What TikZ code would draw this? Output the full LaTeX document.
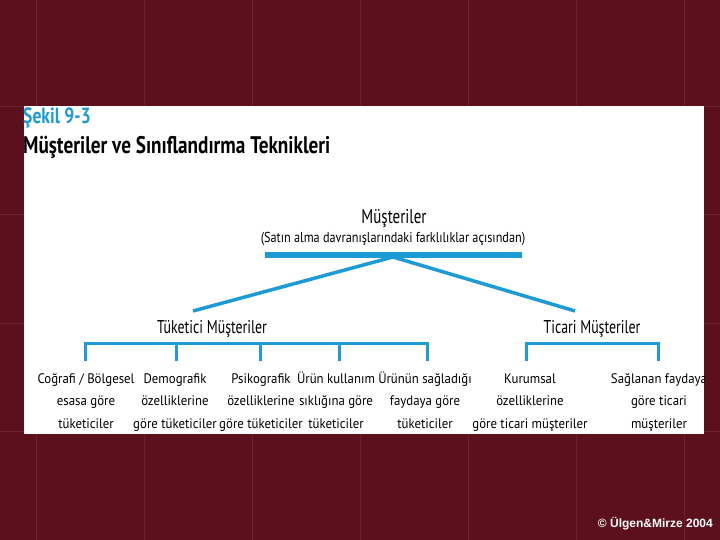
\documentclass[tikz,border=0pt]{standalone}
\usepackage{fontspec}
\setmainfont{PT Sans}[FakeStretch=0.93]
\newfontfamily\headfont{PT Sans}[FakeStretch=0.75]
\newfontfamily\subfont{PT Sans}[FakeStretch=0.85]
\newfontfamily\titlefont{PT Sans}[FakeStretch=0.8]
\newfontfamily\copyfont{Liberation Sans}
\definecolor{bgmaroon}{RGB}{92,16,28}
\definecolor{gridline}{RGB}{110,34,48}
\definecolor{diagblue}{RGB}{28,155,215}
\tikzset{
  gridrule/.style={draw=gridline, line width=1pt},
  bar/.style={draw=diagblue, line width=6pt},
  link/.style={draw=diagblue, line width=3.5pt},
  bracket/.style={draw=diagblue, line width=3pt},
  leaf/.style={inner sep=0pt, align=center, anchor=north, font=\fontsize{13.8}{22.5}\selectfont},
  mid/.style={inner sep=0pt, anchor=base, font=\headfont\fontsize{18.5}{20}\selectfont},
}
\begin{document}
\begin{tikzpicture}[x=1pt,y=-1pt]
\useasboundingbox (0,0) rectangle (720,540);
\fill[bgmaroon] (0,0) rectangle (720,540);
\foreach \gx in {36,144,252,360,468,576,684} \draw[gridrule] (\gx,0) -- (\gx,540);
\foreach \gy in {107,215,323,431} \draw[gridrule] (0,\gy) -- (720,\gy);
\fill[white] (24,106) rectangle (704,434);
% titles
\node[inner sep=0pt, anchor=base west, text=diagblue, font=\titlefont\fontsize{22}{24}\selectfont\bfseries] (fig) at (23,124) {Şekil 9-3};
\node[inner sep=0pt, anchor=base west, font=\titlefont\fontsize{24}{26}\selectfont\bfseries] (title) at (23,154) {Müşteriler ve Sınıflandırma Teknikleri};
% root
\node[inner sep=0pt, anchor=base, font=\headfont\fontsize{20}{22}\selectfont] (root) at (394,223) {Müşteriler};
\node[inner sep=0pt, anchor=base, font=\subfont\fontsize{14.4}{16}\selectfont] (rootsub) at (393,242) {(Satın alma davranışlarındaki farklılıklar açısından)};
\coordinate (barL) at (265,255);
\coordinate (barR) at (522,255);
\draw[bar] (barL) -- (barR);
\coordinate (hub) at (393,257);
\coordinate (tueEnd) at (193,311);
\coordinate (ticEnd) at (575,311);
\draw[link] (hub) -- (tueEnd);
\draw[link] (hub) -- (ticEnd);
\node[mid] (tue) at (212,333) {Tüketici Müşteriler};
\node[mid] (tic) at (592,333) {Ticari Müşteriler};
% leaves
\begin{scope}
\clip (24,106) rectangle (704,434);
\node[leaf] (l1) at (86,367.25) {\strut Coğrafi / Bölgesel\\esasa göre\\tüketiciler};
\node[leaf] (l2) at (175,367.25) {\strut Demografik\\özelliklerine\\göre tüketiciler};
\node[leaf] (l3) at (261,367.25) {\strut Psikografik\\özelliklerine\\göre tüketiciler};
\node[leaf] (l4) at (336,367.25) {\strut Ürün kullanım\\sıklığına göre\\tüketiciler};
\node[leaf] (l5) at (425,367.25) {\strut Ürünün sağladığı\\faydaya göre\\tüketiciler};
\node[leaf] (l6) at (530,367.25) {\strut Kurumsal\\özelliklerine\\göre ticari müşteriler};
\node[leaf] (l7) at (659,367.25) {\strut Sağlanan faydaya\\göre ticari\\müşteriler};
\end{scope}
% brackets
\coordinate (b1) at (85,361);
\coordinate (b2) at (176,361);
\coordinate (b3) at (260,361);
\coordinate (b4) at (339,361);
\coordinate (b5) at (427,361);
\coordinate (b6) at (526,361);
\coordinate (b7) at (658,361);
\coordinate (k1) at (85,343);
\coordinate (k5) at (427,343);
\coordinate (k6) at (526,343);
\coordinate (k7) at (658,343);
\draw[bracket] (b1) -- (k1) -- (k5) -- (b5);
\draw[bracket] (b2) -- (b2|-k1);
\draw[bracket] (b3) -- (b3|-k1);
\draw[bracket] (b4) -- (b4|-k1);
\draw[bracket] (b6) -- (k6) -- (k7) -- (b7);
\node[inner sep=0pt, anchor=base east, text=white, font=\copyfont\fontsize{12}{13}\selectfont\bfseries] (copy) at (713,527) {© Ülgen\&Mirze 2004};
\end{tikzpicture}
\end{document}
